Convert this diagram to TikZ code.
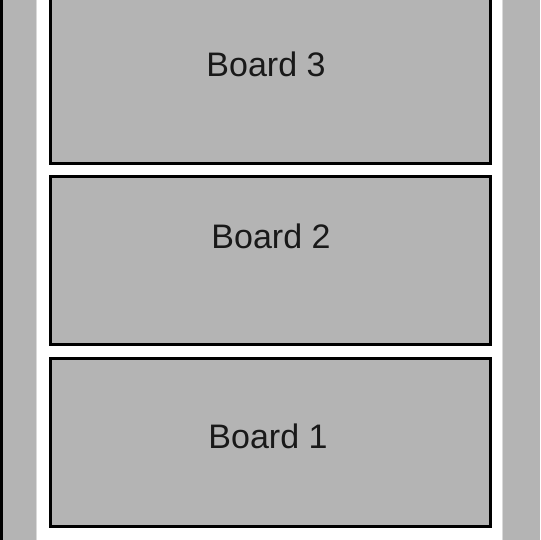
\documentclass[tikz,border=0pt]{standalone}
\usepackage{fontspec}
\setmainfont{Liberation Sans}
\definecolor{tablero}{RGB}{180,180,180}
\tikzset{
  placa/.style={draw=black, fill=tablero, line width=3pt, rectangle,
    minimum width=440pt, minimum height=168pt, inner sep=0pt},
  rotulo/.style={anchor=base, font=\fontsize{34}{40}\selectfont, text=black!90},
}
\begin{document}
\begin{tikzpicture}[x=1pt,y=-1pt]
  \useasboundingbox (0,0) rectangle (540,540);
  %laterales
  \fill [tablero] (0,0) rectangle (37,540);
  \draw [line width=3pt] (1.5,0) -- (1.5,540);
  \draw [black!15, line width=1.5pt] (36.5,0) -- (36.5,540);
  \fill [tablero] (502,0) rectangle (540,540);
  \draw [black!15, line width=1.5pt] (502.5,0) -- (502.5,540);
  %%%% PLACAS
  \node [placa] at (270,80) (placa3) {};
  \node [placa] at (270,260.5) (placa2) {};
  \node [placa] at (270,442.5) (placa1) {};
  %textos
  \node [rotulo] at (266,77) (texto3) {Board 3};
  \node [rotulo] at (271,248) (texto2) {Board 2};
  \node [rotulo] at (268,448) (texto1) {Board 1};
\end{tikzpicture}
\end{document}
